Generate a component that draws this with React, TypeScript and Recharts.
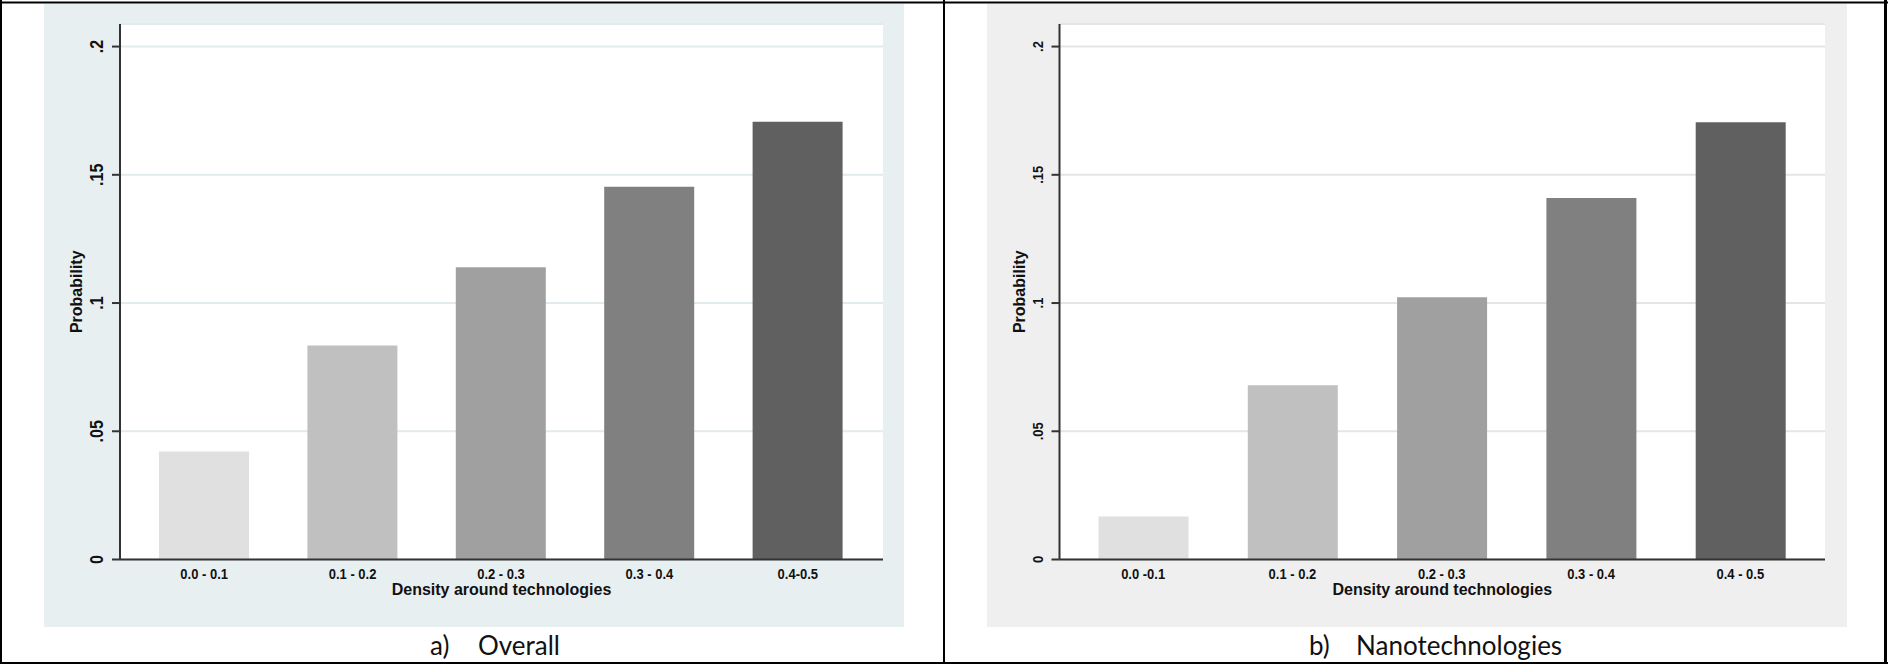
import { BarChart, Bar, XAxis, YAxis, CartesianGrid, Cell } from "recharts";

const overallCats = ["0.0 - 0.1", "0.1 - 0.2", "0.2 - 0.3", "0.3 - 0.4", "0.4-0.5"];
const nanoCats = ["0.0 -0.1", "0.1 - 0.2", "0.2 - 0.3", "0.3 - 0.4", "0.4 - 0.5"];
const overallProb = [0.0421, 0.0834, 0.114, 0.1453, 0.1707];
const nanoProb = [0.0168, 0.0679, 0.1023, 0.141, 0.1705];
const yTicks = [0, 0.05, 0.1, 0.15, 0.2];
const yTickLabels = ["0", ".05", ".1", ".15", ".2"];
const barColors = ["#e0e0e0", "#c0c0c0", "#a0a0a0", "#808080", "#606060"];

const FONT = "'Liberation Sans', Arial, sans-serif";
const AXIS = "#333333";

type PanelProps = {
  left: number;
  cats: string[];
  values: number[];
  bg: string;
  grid: string;
  yAxisWidth: number;
  rightMargin: number;
  pad: { left: number; right: number };
  yTickSize: number;
  yTickShift: number;
  yTitleShift: number;
};

function Panel(p: PanelProps) {
  const data = p.cats.map((c, i) => ({ cat: c, value: p.values[i] }));

  // stata text is a bit taller than arial, so stretch along glyph height
  const yTick = (props: any) => {
    const { x, y, payload } = props;
    const i = yTicks.indexOf(payload.value);
    const bx = x - p.yTickShift;
    return (
      <g transform={`translate(${bx} ${y}) rotate(-90) scale(1 1.12)`}>
        <text
          x={0}
          y={0}
          textAnchor="middle"
          fontFamily={FONT}
          fontWeight="bold"
          fontSize={p.yTickSize}
          fill="#111"
        >
          {i >= 0 ? yTickLabels[i] : payload.value}
        </text>
      </g>
    );
  };

  const xTick = (props: any) => {
    const { x, y, payload } = props;
    return (
      <g transform={`translate(${x} ${y + 19}) scale(1 1.18)`}>
        <text x={0} y={0} textAnchor="middle" fontFamily={FONT} fontWeight="bold" fontSize={13} fill="#111">
          {payload.value}
        </text>
      </g>
    );
  };

  return (
    <div style={{ position: "absolute", left: p.left, top: 4, width: 860, height: 623, background: p.bg }}>
      <BarChart
        width={860}
        height={623}
        data={data}
        margin={{ top: 20, right: p.rightMargin, bottom: 0, left: 0 }}
      >
        <CartesianGrid vertical={false} stroke={p.grid} strokeWidth={2} fill="#ffffff" fillOpacity={1} />
        <XAxis
          dataKey="cat"
          height={67.5}
          padding={p.pad}
          tickLine={false}
          tickSize={0}
          tickMargin={0}
          axisLine={{ stroke: AXIS, strokeWidth: 2 }}
          tick={xTick}
          interval={0}
          label={{
            content: (lp: any) => {
              const vb = lp.viewBox;
              return (
                <text
                  x={vb.x + vb.width / 2}
                  y={vb.y + 35}
                  textAnchor="middle"
                  fontFamily={FONT}
                  fontWeight="bold"
                  fontSize={16}
                  fill="#111"
                >
                  Density around technologies
                </text>
              );
            },
          }}
        />
        <YAxis
          width={p.yAxisWidth}
          domain={[0, 0.2088]}
          ticks={yTicks}
          tickSize={8}
          tickMargin={0}
          axisLine={{ stroke: AXIS, strokeWidth: 2 }}
          tickLine={{ stroke: AXIS, strokeWidth: 2 }}
          tick={yTick}
          label={{
            content: (lp: any) => {
              const vb = lp.viewBox;
              const bx = vb.x + vb.width - p.yTitleShift;
              const cy = vb.y + vb.height / 2;
              return (
                <text
                  x={bx}
                  y={cy}
                  transform={`rotate(-90 ${bx} ${cy})`}
                  textAnchor="middle"
                  fontFamily={FONT}
                  fontWeight="bold"
                  fontSize={16}
                  fill="#111"
                >
                  Probability
                </text>
              );
            },
          }}
        />
        <Bar dataKey="value" barSize={90} isAnimationActive={false}>
          {data.map((_, i) => (
            <Cell key={i} fill={barColors[i % barColors.length]} />
          ))}
        </Bar>
      </BarChart>
    </div>
  );
}

export default function App() {
  return (
    <div style={{ position: "absolute", left: 0, top: 0, width: 1888, height: 664, background: "#fff", overflow: "hidden" }}>
      <Panel
        left={44}
        cats={overallCats}
        values={overallProb}
        bg="#e8eff1"
        grid="#e2eaed"
        yAxisWidth={76}
        rightMargin={21}
        pad={{ left: 10, right: 11 }}
        yTickSize={16}
        yTickShift={9}
        yTitleShift={38}
      />
      <Panel
        left={987}
        cats={nanoCats}
        values={nanoProb}
        bg="#efefef"
        grid="#e5e5e5"
        yAxisWidth={72.5}
        rightMargin={22}
        pad={{ left: 9, right: 10 }}
        yTickSize={13}
        yTickShift={8.5}
        yTitleShift={35}
      />
      <svg width={1888} height={664} style={{ position: "absolute", left: 0, top: 0, pointerEvents: "none" }}>
        <rect x={0} y={1.5} width={1888} height={2} fill="#000" />
        <rect x={0} y={0} width={2} height={664} fill="#000" />
        <rect x={1884} y={0} width={3} height={664} fill="#000" />
        <rect x={0} y={662} width={1888} height={2} fill="#000" />
        <rect x={943} y={0} width={2} height={664} fill="#000" />
        <g fontFamily="Lato, 'Open Sans', sans-serif" fontSize={26} fill="#111">
          <text x={430} y={655}>a)</text>
          <text x={478} y={655}>Overall</text>
          <text x={1309} y={655}>b)</text>
          <text x={1356} y={655}>Nanotechnologies</text>
        </g>
      </svg>
    </div>
  );
}
